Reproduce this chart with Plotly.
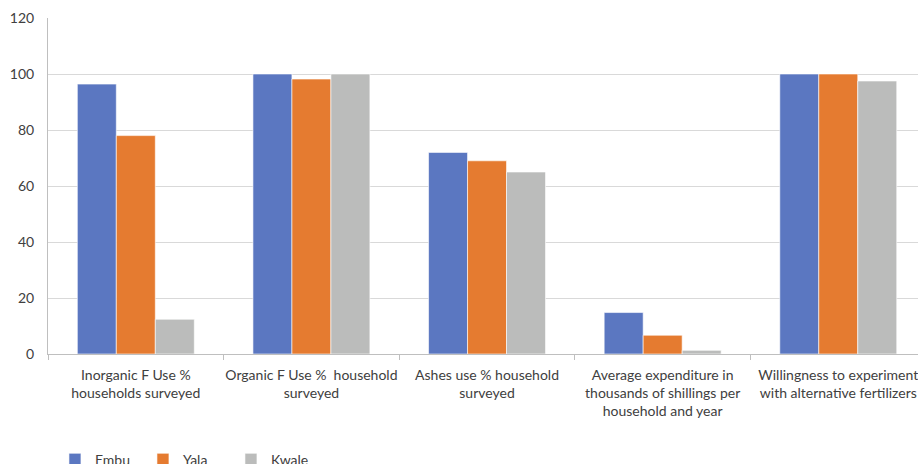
import plotly.graph_objects as go

categories = [
    "Inorganic F Use %<br>households surveyed",
    "Organic F Use %  household<br>surveyed",
    "Ashes use % household<br>surveyed",
    "Average expenditure in<br>thousands of shillings per<br>household and year",
    "Willingness to experiment<br>with alternative fertilizers",
]
embu = [96.4, 100, 72, 14.8, 100]
yala = [78, 98.2, 69, 6.7, 100]
kwale = [12.4, 100, 65, 1.3, 97.5]

series = [("Embu", embu, "#5B77C1"), ("Yala", yala, "#E57B30"), ("Kwale", kwale, "#BBBCBB")]

fig = go.Figure()
for name, vals, color in series:
    fig.add_trace(go.Bar(
        x=categories, y=vals, name=name,
        marker=dict(color=color, line=dict(color="white", width=0.6)),
    ))

font_family = "Lato, 'Open Sans', sans-serif"
fig.update_layout(
    width=918, height=464,
    margin=dict(l=48, r=0, t=18, b=110, autoexpand=False),
    paper_bgcolor="white", plot_bgcolor="white",
    barmode="group", bargap=0.334, bargroupgap=0,
    font=dict(family=font_family, size=14, color="#404040"),
    showlegend=True,
    legend=dict(orientation="h", x=0.008, xanchor="left", y=-0.267, yanchor="top",
                entrywidth=43, entrywidthmode="pixels", itemwidth=30,
                font=dict(size=14, color="#404040"), traceorder="normal"),
)
fig.update_xaxes(
    range=[-0.5, 4.454], showline=True, linecolor="#BFBFBF", linewidth=1,
    ticks="outside", tickson="boundaries", ticklen=5, tickcolor="#BFBFBF",
    showgrid=False, tickangle=0, ticklabelstandoff=8,
    tickfont=dict(size=14, color="#404040"),
)
fig.update_yaxes(
    range=[0, 120], dtick=20, showgrid=True, gridcolor="#D9D9D9", gridwidth=1,
    showline=True, linecolor="#BFBFBF", linewidth=1, zeroline=False,
    ticks="", ticklabelstandoff=10, tickfont=dict(size=14, color="#404040"),
)

fig.write_html("out.html")
